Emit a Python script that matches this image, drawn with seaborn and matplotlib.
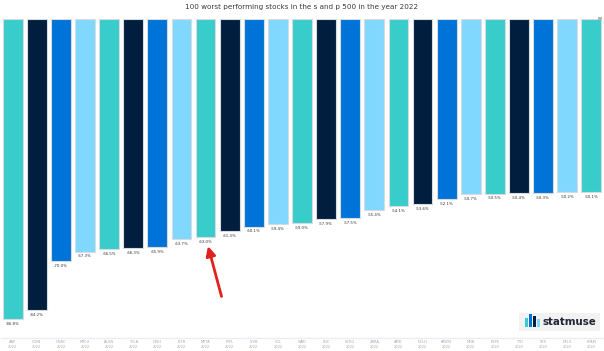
import matplotlib
matplotlib.use("Agg")
import matplotlib.pyplot as plt
from matplotlib.patches import Rectangle, FancyBboxPatch
import seaborn as sns
import pandas as pd

tickers = ["AAP", "COIN", "GNRC", "MTCH", "ALGN", "TSLA", "DISH", "PLTR", "META",
           "PYPL", "SIVB", "CCL", "WBD", "LNC", "SEDG", "ZBRA", "AMD", "NCLH",
           "AMZN", "MDB", "EXPE", "TTD", "STX", "NFLX", "EPAM"]
values = [-86.8, -84.2, -70.0, -67.3, -66.5, -66.3, -65.9, -63.7, -63.0,
          -61.3, -60.1, -59.4, -59.0, -57.9, -57.5, -55.4, -54.1, -53.6,
          -52.1, -50.7, -50.5, -50.4, -50.3, -50.2, -50.1]
year = "2022"
title = "100 worst performing stocks in the s and p 500 in the year 2022"
palette_cycle = ["#38CCCB", "#011E3F", "#0073D8", "#80D8FF"]
highlight = "META"

df = pd.DataFrame({"ticker": tickers, "value": values})
colors = [palette_cycle[i % 4] for i in range(len(tickers))]

sns.set_theme(style="white")
fig = plt.figure(figsize=(6.04, 3.51), dpi=100)
ax = fig.add_axes([0.001, 0.037, 0.998, 0.909])

sns.barplot(data=df, x="ticker", y="value", hue="ticker", palette=colors,
            legend=False, width=0.82, edgecolor="#d6dbe0", linewidth=0.8,
            saturation=1, ax=ax)

ax.set_xlim(-0.5, len(tickers) - 0.5)
ax.set_ylim(min(values) * 319 / 300, 0)
ax.set_yticks([])
ax.set_xlabel("")
ax.set_ylabel("")
ax.set_xticks(range(len(tickers)))
ax.set_xticklabels([f"{t}\n{year}" for t in tickers], fontsize=2.6,
                   color="#a8a8a8", linespacing=1.3)
ax.tick_params(axis="x", length=0, pad=1.5)
for s in ["top", "left", "right"]:
    ax.spines[s].set_visible(False)
ax.spines["bottom"].set_color("#eceaf6")
ax.spines["bottom"].set_linewidth(1.0)

for cont in ax.containers:
    ax.bar_label(cont, labels=[f"{v:.1f}%" for v in cont.datavalues],
                 padding=2, fontsize=2.8, color="#333333")

fig.text(0.5, 0.980, title, ha="center", va="center", fontsize=5.2,
         color="#3a3a3a")

# red arrow to highlighted bar
idx = tickers.index(highlight)
ax.annotate("", xy=(idx, values[idx]), xytext=(11.5, -43),
            textcoords="offset points",
            arrowprops=dict(arrowstyle="-|>", color="#E3211C", lw=2.0,
                            mutation_scale=14, shrinkA=0, shrinkB=7))

# small icon top right
fig.patches.append(Rectangle((0.9905, 0.942), 0.006, 0.01,
                             transform=fig.transFigure, facecolor="#b5b5b5",
                             edgecolor="none"))

# statmuse logo
fig.patches.append(FancyBboxPatch((0.860, 0.058), 0.133, 0.050,
                                  boxstyle="square,pad=0", transform=fig.transFigure,
                                  facecolor="#f2f2f2", edgecolor="none"))
logo_cols = ["#38CCCB", "#0073D8", "#011E3F", "#80D8FF"]
logo_h = [0.026, 0.036, 0.032, 0.024]
for i, (c, h) in enumerate(zip(logo_cols, logo_h)):
    fig.patches.append(Rectangle((0.870 + i * 0.0065, 0.068), 0.004, h,
                                 transform=fig.transFigure, facecolor=c,
                                 edgecolor="none"))
fig.text(0.899, 0.084, "statmuse", ha="left", va="center", fontsize=7.4,
         fontweight="bold", color="#1d2733")

fig.savefig("out.png", dpi=100)
